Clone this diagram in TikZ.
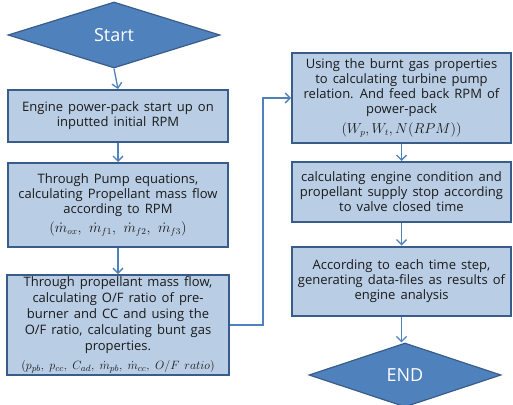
\documentclass[tikz,border=0pt]{standalone}
\usepackage{fontspec}
\setmainfont[WordSpace=1.5]{Open Sans}
\usetikzlibrary{shapes.geometric,arrows.meta}
\definecolor{boxfill}{HTML}{B9CDE5}
\definecolor{boxline}{HTML}{385D8A}
\definecolor{accent}{HTML}{4F81BD}
\definecolor{txt}{HTML}{1A1A1A}
% a line of formulas inside a step box
\newcommand{\mathline}[2][13.5]{\rule{0pt}{15pt}{\fontsize{#1}{15}\selectfont$#2$}}
\tikzset{
  stepbox/.style={draw=boxline, line width=2pt, fill=boxfill, text=txt,
    align=center, inner sep=1pt,
    font=\fontsize{13}{15}\selectfont},
  terminal/.style={diamond, draw=boxline, line width=1.2pt, fill=accent,
    text=white, inner sep=0pt, font=\fontsize{18}{20}\selectfont},
  flow/.style={draw=accent, line width=1.3pt,
    -{Straight Barb[length=5pt,width=10pt,line width=1.3pt]}}
}
\begin{document}
\begin{tikzpicture}[x=1pt,y=-1pt]
  \useasboundingbox (0,0) rectangle (513,404);
  % left column
  \node[terminal, minimum width=212pt, minimum height=66pt] (start) at (114,35) {Start};
  \node[stepbox, minimum width=220pt, minimum height=52pt] (b1) at (118,116)
    {Engine power-pack start up on\\inputted initial RPM};
  \node[stepbox, minimum width=220pt, minimum height=84pt] (b2) at (118,205)
    {Through Pump equations,\\calculating Propellant mass flow\\according to RPM\\
     \mathline{(\dot m_{ox},\ \dot m_{f1},\ \dot m_{f2},\ \dot m_{f3})}};
  \node[stepbox, minimum width=222pt, minimum height=100pt,
    font=\fontsize{13}{15.8}\selectfont] (b3) at (118,325)
    {Through propellant mass flow,\\calculating O/F ratio of pre-\\burner and CC and using the\\
     O/F ratio, calculating bunt gas\\properties.\\
     \mathline[12.6]{(p_{pb},\; p_{cc},\; C_{ad},\; \dot m_{pb},\; \dot m_{cc},\; O/F\ ratio)}};
  % right column
  \node[stepbox, minimum width=219pt, minimum height=90pt] (b4) at (401.5,98)
    {Using the burnt gas properties\\to calculating turbine pump\\relation. And feed back RPM of\\
     power-pack\\\mathline{(W_p, W_t, N(RPM))}};
  \node[stepbox, minimum width=219pt, minimum height=60pt] (b5) at (401.5,192)
    {calculating engine condition and\\propellant supply stop according\\to valve closed time};
  \node[stepbox, minimum width=219pt, minimum height=69pt] (b6) at (401.5,281)
    {According to each time step,\\generating data-files as results of\\engine analysis};
  \node[terminal, minimum width=192pt, minimum height=64pt] (end) at (405,375) {END};
  % connectors
  \draw[flow] (start.south) -- (b1.north);
  \draw[flow] (b1) -- (b2);
  \draw[flow] (b2) -- (b3);
  \draw[flow] (b3.east) -- ++(33,0) |- (b4.west);
  \draw[flow] (b4) -- (b5);
  \draw[flow] (b5) -- (b6);
  \draw[flow] (b6.south) -- (b6.south |- end.north);
\end{tikzpicture}
\end{document}
